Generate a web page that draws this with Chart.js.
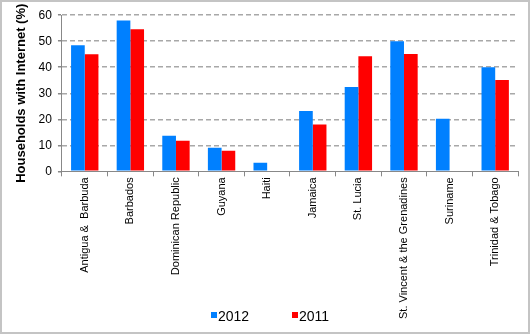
<!DOCTYPE html>
<html lang="en">
<head>
    <meta charset="UTF-8">
    <title>Households with Internet</title>
    <script src="https://cdn.jsdelivr.net/npm/chart.js"></script>
    <style>
        body {
            margin: 0;
            background: #fff;
        }
        .frame {
            width: 526px;
            height: 330px;
            border: 2px solid #c4c4c4;
        }
    </style>
</head>
<body>
    <div class="frame">
        <canvas id="chart" width="526" height="330"></canvas>
    </div>
    <script>
        const countries = ['Antigua &  Barbuda', 'Barbados', 'Dominican Republic', 'Guyana', 'Haiti',
            'Jamaica', 'St. Lucia', 'St. Vincent & the Grenadines', 'Suriname', 'Trinidad & Tobago'];
        const values2012 = [48.5, 58, 13.7, 9.1, 3.3, 23.2, 32.4, 50, 20.2, 40];
        const values2011 = [45, 54.6, 11.8, 7.9, null, 18, 44.2, 45.1, null, 35.1];

        const font = "'Liberation Sans', Arial, sans-serif";

        // legend sits beside the longest label, so it is drawn by hand
        const bottomLegend = {
            id: 'bottomLegend',
            afterDraw(chart) {
                const ctx = chart.ctx;
                const xs = [209, 290];
                ctx.save();
                ctx.font = '14px ' + font;
                ctx.textBaseline = 'middle';
                chart.data.datasets.forEach((ds, i) => {
                    ctx.fillStyle = ds.backgroundColor;
                    ctx.fillRect(xs[i], 310, 6, 6);
                    ctx.fillStyle = '#000';
                    ctx.fillText(ds.label, xs[i] + 7, 315);
                });
                ctx.restore();
            }
        };

        new Chart(document.getElementById('chart'), {
            type: 'bar',
            data: {
                labels: countries,
                datasets: [
                    { label: '2012', data: values2012, backgroundColor: '#0080ff' },
                    { label: '2011', data: values2011, backgroundColor: '#ff0000' }
                ]
            },
            options: {
                responsive: false,
                animation: false,
                categoryPercentage: 0.6,
                barPercentage: 1,
                layout: { padding: { left: 9, right: 10, top: 10, bottom: 12 } },
                plugins: {
                    legend: { display: false },
                    tooltip: { enabled: false }
                },
                scales: {
                    x: {
                        grid: { display: true, drawOnChartArea: false, tickLength: 5, color: '#888' },
                        border: { color: '#888' },
                        ticks: {
                            color: '#000',
                            font: { family: font, size: 11 },
                            minRotation: 90,
                            maxRotation: 90,
                            autoSkip: false,
                            padding: 1
                        }
                    },
                    y: {
                        min: 0,
                        max: 60,
                        ticks: { stepSize: 10, color: '#000', font: { family: font, size: 12 }, padding: 6 },
                        grid: {
                            color: ctx => ctx.tick && ctx.tick.value === 0 ? 'rgba(0,0,0,0)' : '#a8a8a8',
                            tickColor: '#888',
                            tickLength: 4,
                            lineWidth: 1.5
                        },
                        border: { color: '#888', dash: [5, 3] },
                        title: {
                            display: true,
                            text: 'Households with Internet (%)',
                            color: '#000',
                            font: { family: font, size: 13, weight: 'bold' },
                            padding: 3
                        }
                    }
                }
            },
            plugins: [bottomLegend]
        });
    </script>
</body>
</html>
